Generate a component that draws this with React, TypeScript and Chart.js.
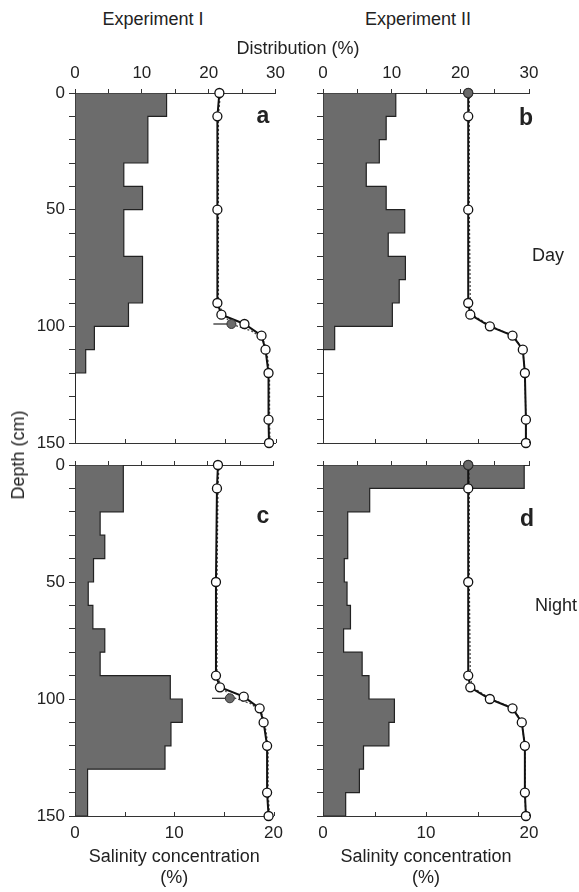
import React, { useEffect, useRef } from 'react';
import { Chart, registerables } from 'chart.js';

Chart.register(...registerables);

const FONT = "'Liberation Sans', Arial, Helvetica, sans-serif";
const AXIS = '#333';
const TEXT = '#222';

// ---- data ----
const binEdges = [0, 10, 20, 30, 40, 50, 60, 70, 80, 90, 100, 110, 120, 130, 140, 150];

const distA = [13.7, 10.9, 10.9, 7.3, 10.1, 7.3, 7.3, 10.1, 10.1, 8.0, 2.9, 1.6, 0, 0, 0];
const distB = [10.6, 9.2, 8.2, 6.3, 9.2, 11.9, 9.5, 12.0, 11.1, 10.1, 1.7, 0, 0, 0, 0];
const distC = [7.3, 7.3, 3.8, 4.5, 2.8, 2.0, 2.7, 4.5, 3.8, 14.4, 16.2, 14.5, 13.6, 1.9, 1.9];
const distD = [29.3, 6.8, 3.6, 3.6, 3.1, 3.5, 4.0, 3.0, 5.7, 6.7, 10.4, 9.6, 5.9, 5.3, 3.3];

const depthsAC = [0, 10, 50, 90, 95, 99, 104, 110, 120, 140, 150];
const depthsBD = [0, 10, 50, 90, 95, 100, 104, 110, 120, 140, 150];

const salA = [14.4, 14.2, 14.2, 14.2, 14.6, 16.9, 18.6, 19.0, 19.3, 19.3, 19.35];
const salB = [14.1, 14.1, 14.1, 14.1, 14.3, 16.2, 18.4, 19.4, 19.6, 19.7, 19.7];
const salC = [14.4, 14.3, 14.2, 14.2, 14.6, 17.0, 18.6, 19.0, 19.35, 19.35, 19.5];
const salD = [14.1, 14.1, 14.1, 14.1, 14.3, 16.2, 18.4, 19.3, 19.6, 19.6, 19.7];

const dotDepthsAC = [0, 10, 50, 90, 95, 99, 102, 105, 110, 120, 140, 150];
const dotSalA = [14.5, 14.3, 14.3, 14.3, 14.8, 15.6, 17.6, 18.7, 19.1, 19.4, 19.4, 19.45];
const dotSalC = [14.5, 14.4, 14.3, 14.3, 14.8, 15.7, 17.7, 18.7, 19.1, 19.45, 19.45, 19.6];
const dotDepthsBD = [0, 10, 50, 90, 95, 100, 104, 110, 120, 140, 150];
const dotSalB = [14.2, 14.2, 14.2, 14.3, 14.5, 16.3, 18.5, 19.4, 19.6, 19.7, 19.7];
const dotSalD = [14.2, 14.2, 14.2, 14.3, 14.5, 16.3, 18.5, 19.3, 19.6, 19.6, 19.7];

// grey (filled) reference points: [salinity, depth]
const markA = [15.6, 99];
const markB = [14.1, 0];
const markC = [15.6, 99.7];
const markD = [14.1, 0];

// short horizontal halocline marks: [salinity start, salinity end, depth]
const haloA = [13.8, 15.6, 99];
const haloC = [13.8, 15.6, 99.7];

const depthTickLabels = [0, 50, 100, 150];
const distTickLabels = [0, 10, 20, 30];
const salTickLabels = [0, 10, 20];
const salTickMarks = [0, 5, 10, 15, 20];

type Panel = {
  dist: number[];
  depths: number[];
  sal: number[];
  dotDepths: number[];
  dotSal: number[];
  mark: number[];
  halo: number[] | null;
  depthLabels: boolean;
  topLabels: boolean;
  bottomLabels: boolean;
  left: number;
  top: number;
  width: number;
  height: number;
  yWidth: number;
  padRight: number;
  topH: number;
  botH: number;
};

function histPolygon(edges: number[], vals: number[]) {
  const pts: { x: number; y: number }[] = [{ x: 0, y: edges[0] }];
  vals.forEach((v, i) => {
    pts.push({ x: v, y: edges[i] });
    pts.push({ x: v, y: edges[i + 1] });
  });
  pts.push({ x: 0, y: edges[edges.length - 1] });
  pts.push({ x: 0, y: edges[0] });
  return pts;
}

const innerTicks = {
  id: 'innerTicks',
  afterDraw(chart: any) {
    const s = chart.scales.xBot;
    const { ctx, chartArea } = chart;
    ctx.save();
    ctx.strokeStyle = AXIS;
    ctx.lineWidth = 1;
    for (const v of salTickMarks) {
      const x = Math.round(s.getPixelForValue(v)) + 0.5;
      ctx.beginPath();
      ctx.moveTo(x, chartArea.bottom);
      ctx.lineTo(x, chartArea.bottom - 4);
      ctx.stroke();
    }
    ctx.restore();
  },
};

function makeConfig(p: Panel): any {
  const datasets: any[] = [
    {
      label: 'Distribution',
      data: histPolygon(binEdges, p.dist),
      xAxisID: 'xTop',
      yAxisID: 'y',
      borderColor: '#222',
      borderWidth: 1.2,
      backgroundColor: '#6c6c6c',
      fill: 'shape',
      pointRadius: 0,
      tension: 0,
      order: 6,
    },
    {
      label: 'dotted',
      data: p.dotDepths.map((d, i) => ({ x: p.dotSal[i], y: d })),
      xAxisID: 'xBot',
      yAxisID: 'y',
      borderColor: '#444',
      borderWidth: 1.3,
      borderDash: [2, 2],
      pointRadius: 0,
      fill: false,
      tension: 0,
      order: 5,
      clip: false,
    },
    {
      label: 'Salinity',
      data: p.depths.map((d, i) => ({ x: p.sal[i], y: d })),
      xAxisID: 'xBot',
      yAxisID: 'y',
      borderColor: '#111',
      borderWidth: 2,
      pointRadius: 4.5,
      pointBackgroundColor: '#fff',
      pointBorderColor: '#111',
      pointBorderWidth: 1.3,
      fill: false,
      tension: 0,
      order: 3,
      clip: false,
    },
    {
      label: 'mark',
      data: [{ x: p.mark[0], y: p.mark[1] }],
      xAxisID: 'xBot',
      yAxisID: 'y',
      showLine: false,
      pointRadius: 4.5,
      pointBackgroundColor: '#6a6a6a',
      pointBorderColor: '#333',
      pointBorderWidth: 1,
      order: 1,
      clip: false,
    },
  ];
  if (p.halo) {
    datasets.push({
      label: 'halo',
      data: [
        { x: p.halo[0], y: p.halo[2] },
        { x: p.halo[1], y: p.halo[2] },
      ],
      xAxisID: 'xBot',
      yAxisID: 'y',
      borderColor: '#222',
      borderWidth: 1.2,
      pointRadius: 0,
      fill: false,
      order: 2,
      clip: false,
    });
  }
  const tickFont = { family: FONT, size: 17 };
  return {
    type: 'line',
    data: { datasets },
    options: {
      animation: false,
      responsive: false,
      maintainAspectRatio: false,
      events: [],
      layout: { padding: { left: 0, right: p.padRight, top: 0, bottom: 0 } },
      plugins: { legend: { display: false }, tooltip: { enabled: false } },
      scales: {
        y: {
          type: 'linear',
          position: 'left',
          reverse: true,
          min: 0,
          max: 150,
          ticks: {
            stepSize: 10,
            autoSkip: false,
            padding: 4,
            color: TEXT,
            font: tickFont,
            callback: (v: number) => (p.depthLabels && depthTickLabels.includes(v) ? String(v) : ''),
          },
          grid: { drawOnChartArea: false, drawTicks: true, tickLength: 6, color: AXIS },
          border: { display: true, color: AXIS, width: 1 },
          afterFit: (s: any) => {
            s.width = p.yWidth;
          },
        },
        xTop: {
          type: 'linear',
          position: 'top',
          min: 0,
          max: 30,
          ticks: {
            stepSize: 5,
            autoSkip: false,
            padding: 5,
            maxRotation: 0,
            color: TEXT,
            font: tickFont,
            callback: (v: number) => (p.topLabels && distTickLabels.includes(v) ? String(v) : ''),
          },
          grid: { drawOnChartArea: false, drawTicks: true, tickLength: 4, color: AXIS },
          border: { display: true, color: AXIS, width: 1 },
          afterFit: (s: any) => {
            s.height = p.topH;
          },
        },
        xBot: {
          type: 'linear',
          position: 'bottom',
          min: 0,
          max: 20,
          ticks: {
            stepSize: 5,
            autoSkip: false,
            padding: 7,
            maxRotation: 0,
            color: TEXT,
            font: tickFont,
            display: p.bottomLabels,
            callback: (v: number) => (salTickLabels.includes(v) ? String(v) : ''),
          },
          grid: { drawOnChartArea: false, drawTicks: false, color: AXIS },
          border: { display: true, color: AXIS, width: 1 },
          title: {
            display: p.bottomLabels,
            text: ['Salinity concentration', '(%)'],
            color: TEXT,
            font: { family: FONT, size: 18 },
            padding: { top: 0, bottom: 3 },
          },
          afterFit: (s: any) => {
            s.height = p.botH;
          },
        },
      },
    },
    plugins: [innerTicks],
  };
}

const panels: Panel[] = [
  {
    dist: distA, depths: depthsAC, sal: salA, dotDepths: dotDepthsAC, dotSal: dotSalA, mark: markA, halo: haloA,
    depthLabels: true, topLabels: true, bottomLabels: false,
    left: 0, top: 55, width: 290, height: 410, yWidth: 75, padRight: 10, topH: 38, botH: 22,
  },
  {
    dist: distB, depths: depthsBD, sal: salB, dotDepths: dotDepthsBD, dotSal: dotSalB, mark: markB, halo: null,
    depthLabels: false, topLabels: true, bottomLabels: false,
    left: 290, top: 55, width: 289, height: 410, yWidth: 33, padRight: 50, topH: 38, botH: 22,
  },
  {
    dist: distC, depths: depthsAC, sal: salC, dotDepths: dotDepthsAC, dotSal: dotSalC, mark: markC, halo: haloC,
    depthLabels: true, topLabels: false, bottomLabels: true,
    left: 0, top: 440, width: 290, height: 452, yWidth: 75, padRight: 10, topH: 25, botH: 76,
  },
  {
    dist: distD, depths: depthsBD, sal: salD, dotDepths: dotDepthsBD, dotSal: dotSalD, mark: markD, halo: null,
    depthLabels: false, topLabels: false, bottomLabels: true,
    left: 290, top: 440, width: 289, height: 452, yWidth: 33, padRight: 50, topH: 25, botH: 76,
  },
];

function PanelChart({ p }: { p: Panel }) {
  const ref = useRef<HTMLCanvasElement | null>(null);
  useEffect(() => {
    if (!ref.current) return;
    const chart = new Chart(ref.current, makeConfig(p));
    return () => chart.destroy();
  }, [p]);
  return (
    <canvas
      ref={ref}
      width={p.width}
      height={p.height}
      style={{ position: 'absolute', left: p.left, top: p.top, width: p.width, height: p.height }}
    />
  );
}

function Label({ x, y, text, size = 18, bold = false, rotate = 0 }: any) {
  return (
    <div
      style={{
        position: 'absolute',
        left: x,
        top: y,
        transform: `translate(-50%, -50%) rotate(${rotate}deg)`,
        fontSize: size,
        fontWeight: bold ? 'bold' : 'normal',
        whiteSpace: 'nowrap',
        lineHeight: 1,
        color: TEXT,
      }}
    >
      {text}
    </div>
  );
}

export default function App() {
  return (
    <div
      style={{
        position: 'absolute',
        left: 0,
        top: 0,
        width: 579,
        height: 892,
        background: '#fff',
        fontFamily: FONT,
        overflow: 'hidden',
      }}
    >
      {panels.map((p, i) => (
        <PanelChart key={i} p={p} />
      ))}
      <Label x={153} y={19} text="Experiment I" />
      <Label x={418} y={19} text="Experiment II" />
      <Label x={298} y={48} text="Distribution (%)" />
      <Label x={18} y={455} text="Depth (cm)" rotate={-90} />
      <Label x={263} y={115} text="a" size={23} bold />
      <Label x={526} y={117} text="b" size={23} bold />
      <Label x={263} y={515} text="c" size={23} bold />
      <Label x={527} y={518} text="d" size={23} bold />
      <Label x={548} y={255} text="Day" />
      <Label x={556} y={605} text="Night" />
    </div>
  );
}
